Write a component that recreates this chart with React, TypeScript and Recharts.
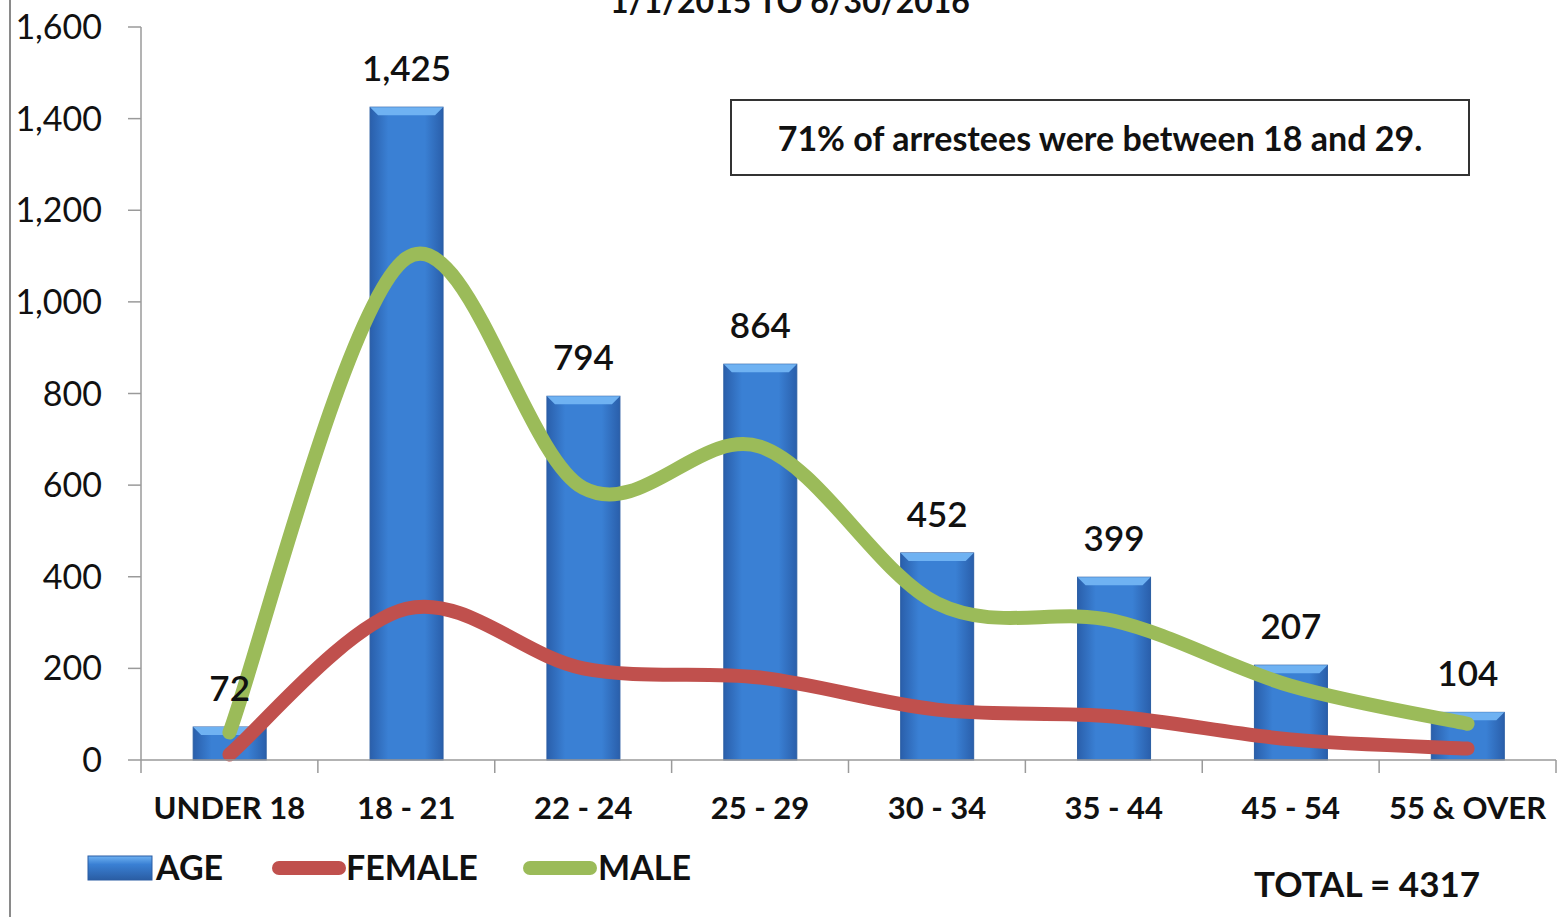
import React from 'react';
import { ComposedChart, Bar, Line, XAxis, YAxis, LabelList, Legend } from 'recharts';

const categories = ['UNDER 18', '18 - 21', '22 - 24', '25 - 29', '30 - 34', '35 - 44', '45 - 54', '55 & OVER'];
const ageTotals = [72, 1425, 794, 864, 452, 399, 207, 104];
const femaleCounts = [12, 330, 200, 180, 110, 95, 45, 25];
const maleCounts = [60, 1095, 594, 684, 342, 304, 162, 79];
const yTicks = [0, 200, 400, 600, 800, 1000, 1200, 1400, 1600];

const FONT = 'Lato, "Open Sans", sans-serif';
const BLUE = '#3479cc';
const RED = '#c0504d';
const GREEN = '#9bbb59';

const W = 1557;
const H = 917;
const PLOT_LEFT = 141;
const PLOT_RIGHT = 1556;
const AXIS_Y = 760;
const BAND = (PLOT_RIGHT - PLOT_LEFT) / categories.length;

const data = categories.map((c, i) => ({
  cat: c,
  age: ageTotals[i],
  female: femaleCounts[i],
  male: maleCounts[i],
}));

// excel-like smoothed line (catmull-rom through the points)
const smoothCurve = (context: any) => {
  let pts: number[][] = [];
  return {
    areaStart() {},
    areaEnd() {},
    lineStart() { pts = []; },
    point(x: number, y: number) { pts.push([+x, +y]); },
    lineEnd() {
      if (!pts.length) return;
      context.moveTo(pts[0][0], pts[0][1]);
      for (let i = 0; i < pts.length - 1; i++) {
        const p0 = pts[i - 1] || pts[i];
        const p1 = pts[i];
        const p2 = pts[i + 1];
        const p3 = pts[i + 2] || p2;
        context.bezierCurveTo(
          p1[0] + (p2[0] - p0[0]) / 6, p1[1] + (p2[1] - p0[1]) / 6,
          p2[0] - (p3[0] - p1[0]) / 6, p2[1] - (p3[1] - p1[1]) / 6,
          p2[0], p2[1],
        );
      }
    },
  };
};

const BarShape = (props: any) => {
  const { x, y, width, height } = props;
  if (!height || height <= 0) return null;
  const b = Math.min(8, height / 2);
  return (
    <g>
      <rect x={x} y={y} width={width} height={height} fill="url(#barGrad)" stroke="#2a5da3" strokeWidth={1} />
      <polygon points={`${x},${y} ${x + width},${y} ${x + width - b},${y + b} ${x + b},${y + b}`} fill="#6fb2f2" />
    </g>
  );
};

const XTick = (props: any) => {
  const { x, payload, index } = props;
  return (
    <g>
      <line x1={x - BAND / 2} y1={AXIS_Y} x2={x - BAND / 2} y2={AXIS_Y + 13} stroke="#9a9a9a" strokeWidth={1.5} />
      {index === categories.length - 1 && (
        <line x1={x + BAND / 2} y1={AXIS_Y} x2={x + BAND / 2} y2={AXIS_Y + 13} stroke="#9a9a9a" strokeWidth={1.5} />
      )}
      <text x={x} y={AXIS_Y + 59} textAnchor="middle" fontFamily={FONT} fontWeight={700} fontSize={31} fill="#111">
        {payload.value}
      </text>
    </g>
  );
};

const LegendContent = () => (
  <div style={{ position: 'relative', width: 700, height: 60, fontFamily: FONT, fontWeight: 700, fontSize: 34, color: '#111' }}>
    <svg width={700} height={60} style={{ position: 'absolute', left: 0, top: 0 }}>
      <defs>
        <linearGradient id="legGrad" x1="0" y1="0" x2="0" y2="1">
          <stop offset="0%" stopColor="#6fb2f2" />
          <stop offset="35%" stopColor="#3a80d4" />
          <stop offset="100%" stopColor="#2a5da3" />
        </linearGradient>
      </defs>
      <rect x={88} y={18} width={64} height={24} fill="url(#legGrad)" stroke="#2a5da3" />
      <line x1={279} y1={30} x2={339} y2={30} stroke={RED} strokeWidth={14} strokeLinecap="round" />
      <line x1={530} y1={30} x2={590} y2={30} stroke={GREEN} strokeWidth={14} strokeLinecap="round" />
    </svg>
    <span style={{ position: 'absolute', left: 156, top: 8 }}>AGE</span>
    <span style={{ position: 'absolute', left: 346, top: 8 }}>FEMALE</span>
    <span style={{ position: 'absolute', left: 598, top: 8 }}>MALE</span>
  </div>
);

export default function App() {
  return (
    <div style={{ position: 'absolute', left: 0, top: 0, width: W, height: H, background: '#fff', overflow: 'hidden', fontFamily: FONT }}>
      {/* slide frame */}
      <div style={{ position: 'absolute', left: 9, top: 0, width: 2, height: H, background: '#8a8a8a' }} />
      <div style={{ position: 'absolute', left: 0, top: -19, width: 1580, textAlign: 'center', fontSize: 32, fontWeight: 700, color: '#111' }}>
        1/1/2015 TO 6/30/2016
      </div>

      <ComposedChart width={W} height={H} data={data}
        margin={{ top: 27, right: W - PLOT_RIGHT, bottom: 37, left: 0 }}
        barCategoryGap="29.5%">
        <defs>
          <linearGradient id="barGrad" x1="0" y1="0" x2="1" y2="0">
            <stop offset="0%" stopColor="#2a5fab" />
            <stop offset="25%" stopColor="#3a80d4" />
            <stop offset="75%" stopColor="#3a80d4" />
            <stop offset="100%" stopColor="#2a5fab" />
          </linearGradient>
        </defs>
        <XAxis dataKey="cat" height={60} interval={0} tickLine={false} tick={<XTick />}
          axisLine={{ stroke: '#9a9a9a', strokeWidth: 1.5 }} />
        <YAxis width={PLOT_LEFT} domain={[0, 1600]} ticks={yTicks} interval={0} tickSize={13} tickMargin={26}
          tickFormatter={(v: number) => v.toLocaleString('en-US')}
          tick={{ fill: '#111', fontSize: 34, fontFamily: FONT }}
          tickLine={{ stroke: '#9a9a9a', strokeWidth: 1.5 }} axisLine={{ stroke: '#9a9a9a', strokeWidth: 1.5 }} />
        <Legend verticalAlign="bottom" align="left" content={<LegendContent />}
          wrapperStyle={{ position: 'absolute', left: 0, top: 838, width: 700, height: 60 }} />
        <Bar dataKey="age" name="AGE" fill={BLUE} shape={<BarShape />} isAnimationActive={false}>
          <LabelList dataKey="age" position="top" offset={26}
            formatter={(v: any) => Number(v).toLocaleString('en-US')}
            style={{ fill: '#111', fontSize: 35, fontFamily: FONT, fontWeight: 600 }} />
        </Bar>
        <Line dataKey="female" name="FEMALE" type={smoothCurve as any} stroke={RED} strokeWidth={14}
          strokeLinecap="round" dot={false} activeDot={false} isAnimationActive={false} />
        <Line dataKey="male" name="MALE" type={smoothCurve as any} stroke={GREEN} strokeWidth={14}
          strokeLinecap="round" dot={false} activeDot={false} isAnimationActive={false} />
      </ComposedChart>

      <div style={{ position: 'absolute', left: 730, top: 99, width: 736, height: 73, border: '2px solid #333',
        display: 'flex', alignItems: 'center', justifyContent: 'center', fontSize: 34, fontWeight: 700, color: '#111' }}>
        71% of arrestees were between 18 and 29.
      </div>
      <div style={{ position: 'absolute', left: 1254, top: 862, fontSize: 35, fontWeight: 700, color: '#111' }}>
        TOTAL = 4317
      </div>
    </div>
  );
}
